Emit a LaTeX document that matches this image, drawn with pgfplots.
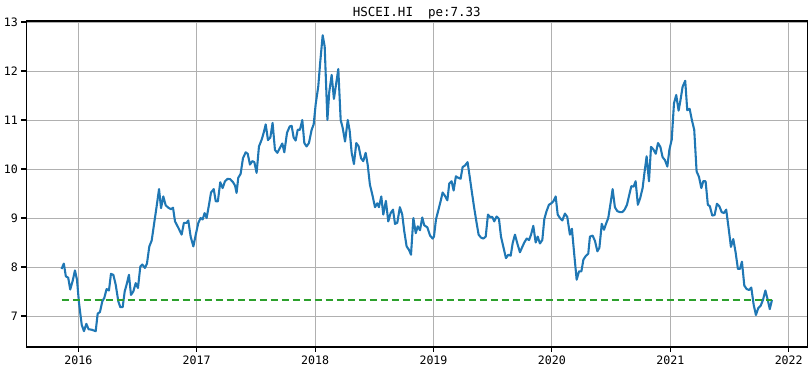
\documentclass[border=0pt]{standalone}
\usepackage{fontspec}
\setmainfont{DejaVu Sans Mono}
\usepackage{pgfplots}
\pgfplotsset{compat=1.18}
\usepackage{pgfplotstable}
\definecolor{mplblue}{HTML}{1F77B4}
\definecolor{mplgreen}{HTML}{2CA02C}
\definecolor{gridgray}{HTML}{B0B0B0}

\pgfplotstableread{
x y
2015.859 7.96
2015.878 8.07
2015.895 7.81
2015.915 7.78
2015.932 7.54
2015.952 7.71
2015.972 7.93
2015.989 7.74
2016.006 7.27
2016.029 6.82
2016.048 6.69
2016.068 6.84
2016.087 6.73
2016.113 6.72
2016.147 6.69
2016.164 7.05
2016.183 7.08
2016.203 7.30
2016.220 7.37
2016.239 7.55
2016.259 7.52
2016.276 7.86
2016.296 7.84
2016.316 7.64
2016.338 7.30
2016.355 7.18
2016.375 7.18
2016.392 7.50
2016.408 7.64
2016.428 7.84
2016.445 7.43
2016.465 7.50
2016.485 7.67
2016.504 7.57
2016.524 8.01
2016.541 8.05
2016.563 7.98
2016.580 8.07
2016.600 8.42
2016.620 8.54
2016.639 8.86
2016.662 9.24
2016.682 9.59
2016.699 9.20
2016.718 9.44
2016.738 9.26
2016.760 9.21
2016.783 9.18
2016.800 9.21
2016.817 8.93
2016.845 8.80
2016.873 8.66
2016.892 8.90
2016.915 8.90
2016.929 8.95
2016.949 8.62
2016.972 8.42
2016.992 8.66
2017.014 8.90
2017.033 9.00
2017.050 8.97
2017.067 9.10
2017.084 9.00
2017.104 9.27
2017.121 9.52
2017.144 9.59
2017.161 9.34
2017.179 9.34
2017.199 9.73
2017.219 9.61
2017.239 9.75
2017.262 9.80
2017.284 9.79
2017.307 9.73
2017.324 9.66
2017.337 9.51
2017.351 9.82
2017.371 9.90
2017.391 10.22
2017.414 10.34
2017.431 10.31
2017.450 10.09
2017.470 10.16
2017.487 10.14
2017.506 9.92
2017.526 10.46
2017.549 10.60
2017.566 10.74
2017.583 10.91
2017.602 10.59
2017.622 10.64
2017.641 10.94
2017.661 10.39
2017.681 10.33
2017.703 10.43
2017.723 10.52
2017.740 10.34
2017.763 10.74
2017.786 10.87
2017.802 10.88
2017.819 10.64
2017.836 10.58
2017.853 10.80
2017.872 10.80
2017.892 11.00
2017.909 10.53
2017.928 10.46
2017.948 10.53
2017.971 10.80
2017.988 10.91
2018.005 11.32
2018.027 11.69
2018.044 12.20
2018.064 12.73
2018.081 12.50
2018.104 11.00
2018.120 11.58
2018.140 11.92
2018.159 11.43
2018.176 11.71
2018.196 12.04
2018.216 11.00
2018.233 10.84
2018.253 10.56
2018.276 11.00
2018.292 10.78
2018.309 10.33
2018.328 10.10
2018.348 10.53
2018.368 10.46
2018.388 10.22
2018.407 10.16
2018.427 10.33
2018.444 10.09
2018.463 9.68
2018.483 9.48
2018.506 9.22
2018.525 9.30
2018.539 9.22
2018.559 9.44
2018.576 9.07
2018.598 9.35
2018.618 8.93
2018.638 9.10
2018.658 9.17
2018.675 8.88
2018.694 8.90
2018.716 9.22
2018.736 9.07
2018.753 8.73
2018.773 8.42
2018.793 8.35
2018.810 8.25
2018.830 9.00
2018.850 8.69
2018.867 8.83
2018.886 8.75
2018.905 9.01
2018.922 8.85
2018.948 8.81
2018.971 8.64
2018.993 8.58
2019.004 8.62
2019.021 8.97
2019.041 9.16
2019.060 9.34
2019.077 9.52
2019.097 9.45
2019.117 9.36
2019.133 9.70
2019.153 9.75
2019.170 9.56
2019.189 9.85
2019.209 9.82
2019.229 9.80
2019.246 10.04
2019.266 10.07
2019.288 10.14
2019.307 9.82
2019.327 9.48
2019.344 9.20
2019.364 8.90
2019.381 8.66
2019.401 8.60
2019.421 8.58
2019.441 8.62
2019.460 9.07
2019.477 9.02
2019.497 9.02
2019.513 8.93
2019.533 9.03
2019.553 8.98
2019.570 8.62
2019.590 8.41
2019.612 8.18
2019.632 8.25
2019.652 8.23
2019.669 8.49
2019.688 8.66
2019.708 8.48
2019.730 8.30
2019.750 8.41
2019.767 8.50
2019.787 8.58
2019.807 8.55
2019.824 8.66
2019.843 8.84
2019.863 8.50
2019.880 8.62
2019.899 8.48
2019.919 8.55
2019.936 8.98
2019.955 9.14
2019.975 9.27
2019.995 9.30
2020.012 9.34
2020.032 9.44
2020.049 9.07
2020.068 9.00
2020.088 8.95
2020.110 9.09
2020.130 9.02
2020.152 8.66
2020.169 8.78
2020.189 8.25
2020.209 7.74
2020.229 7.91
2020.249 7.91
2020.266 8.15
2020.288 8.23
2020.307 8.27
2020.321 8.62
2020.344 8.64
2020.364 8.53
2020.384 8.32
2020.401 8.39
2020.421 8.88
2020.440 8.76
2020.457 8.88
2020.476 9.00
2020.496 9.31
2020.513 9.59
2020.532 9.22
2020.552 9.14
2020.574 9.12
2020.594 9.12
2020.614 9.17
2020.634 9.27
2020.654 9.48
2020.671 9.65
2020.690 9.64
2020.707 9.75
2020.726 9.27
2020.746 9.41
2020.766 9.61
2020.783 9.95
2020.800 10.26
2020.820 9.75
2020.837 10.45
2020.857 10.40
2020.877 10.31
2020.896 10.53
2020.916 10.45
2020.935 10.24
2020.955 10.18
2020.975 10.05
2020.992 10.39
2021.012 10.60
2021.031 11.34
2021.050 11.51
2021.070 11.19
2021.087 11.42
2021.104 11.68
2021.126 11.80
2021.143 11.20
2021.163 11.23
2021.182 11.00
2021.202 10.80
2021.222 9.95
2021.242 9.84
2021.262 9.61
2021.278 9.75
2021.298 9.75
2021.317 9.27
2021.334 9.24
2021.354 9.05
2021.374 9.06
2021.394 9.29
2021.414 9.24
2021.434 9.12
2021.453 9.10
2021.472 9.17
2021.492 8.80
2021.512 8.41
2021.532 8.57
2021.552 8.29
2021.571 7.96
2021.588 7.96
2021.605 8.11
2021.625 7.62
2021.645 7.55
2021.665 7.53
2021.684 7.58
2021.704 7.23
2021.723 7.02
2021.743 7.16
2021.763 7.21
2021.783 7.33
2021.803 7.52
2021.823 7.33
2021.840 7.14
2021.859 7.33
}\pedata

\begin{document}
\begin{tikzpicture}
\useasboundingbox (0,0) rectangle (811bp,369bp);
\begin{axis}[
  at={(26.3bp,22bp)}, anchor=south west,
  scale only axis, width=781bp, height=326bp,
  xmin=2015.561, xmax=2022.157, ymin=6.367, ymax=13.02,
  xtick={2016,2017,2018,2019,2020,2021,2022},
  ytick={7,8,9,10,11,12,13},
  /pgf/number format/1000 sep={},
  /pgf/number format/assume math mode=true,
  tick pos=left, tick align=outside, major tick length=4.9bp,
  grid=major,
  major grid style={draw=gridgray, line width=0.85bp},
  axis line style={line width=1.1bp},
  tick style={black, line width=1.1bp},
  ticklabel style={font=\fontsize{11.6bp}{13bp}\selectfont},
]
\addplot[mplblue, line width=2.08bp, line join=round] table[x=x, y=y] {\pedata};
\addplot[mplgreen, line width=2.08bp, dash pattern=on 7.7bp off 3.3bp] coordinates {(2015.859,7.33) (2021.859,7.33)};
\end{axis}
\node[anchor=base, font=\fontsize{12.5bp}{14bp}\selectfont, inner sep=0pt] at (416.8bp,352.5bp) {HSCEI.HI\ \ pe:7.33};
\end{tikzpicture}
\end{document}
